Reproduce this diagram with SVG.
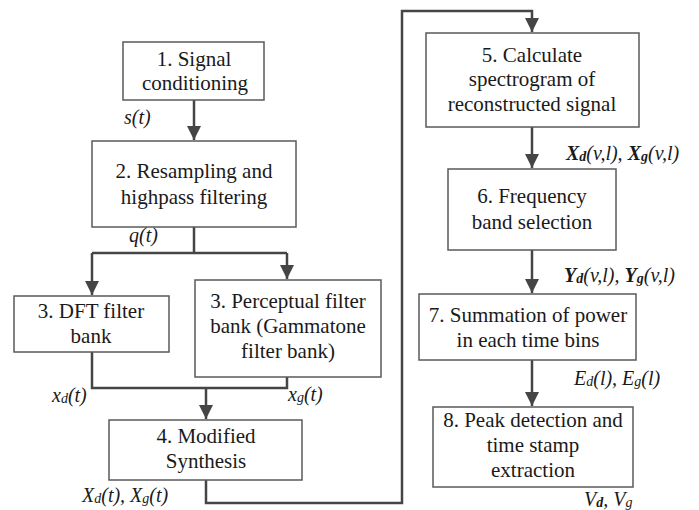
<svg xmlns="http://www.w3.org/2000/svg" width="699" height="510" viewBox="0 0 699 510">
  <style>
    .box { fill: #ffffff; stroke: #5a5a5a; stroke-width: 1.5; }
    .lbl { font-family: 'Liberation Serif', 'Times New Roman', serif; font-size: 21px; fill: #1a1a1a; text-anchor: middle; }
    .sig { font-family: 'Liberation Serif', 'Times New Roman', serif; font-size: 20px; font-style: italic; fill: #1a1a1a; }
    .bold { font-weight: bold; }
    .sub { font-size: 14px; }
    .wire { fill: none; stroke: #454545; stroke-width: 2.5; }
  </style>
  <defs>
    <marker id="arrow" markerUnits="userSpaceOnUse" markerWidth="16" markerHeight="16" viewBox="0 0 16 16" refX="14" refY="8" orient="auto">
      <path d="M0,1 L14,8 L0,15 Z" fill="#454545"/>
    </marker>
  </defs>
  <rect width="699" height="510" fill="#ffffff"/>

  <!-- connectors -->
  <g id="connectors">
    <path class="wire" d="M194,100 V140" marker-end="url(#arrow)"/>
    <path class="wire" d="M194,227 V253"/>
    <path class="wire" d="M92,253 H287"/>
    <path class="wire" d="M92,253 V295" marker-end="url(#arrow)"/>
    <path class="wire" d="M287,253 V279" marker-end="url(#arrow)"/>
    <path class="wire" d="M92,352 V388 H287 V377"/>
    <path class="wire" d="M206,388 V419" marker-end="url(#arrow)"/>
    <path class="wire" d="M206,480 V503 H402 V11 H532 V32" marker-end="url(#arrow)"/>
    <path class="wire" d="M532,127 V168" marker-end="url(#arrow)"/>
    <path class="wire" d="M532,250 V293" marker-end="url(#arrow)"/>
    <path class="wire" d="M532,360 V406" marker-end="url(#arrow)"/>
  </g>

  <!-- process blocks -->
  <g id="n1">
    <rect class="box" x="123" y="42" width="141" height="58"/>
    <text class="lbl" x="194" y="66">1. Signal</text>
    <text class="lbl" x="195" y="90">conditioning</text>
  </g>
  <g id="n2">
    <rect class="box" x="92" y="141" width="204" height="86"/>
    <text class="lbl" x="194" y="178">2. Resampling and</text>
    <text class="lbl" x="194" y="204">highpass filtering</text>
  </g>
  <g id="n3a">
    <rect class="box" x="14" y="296" width="155" height="56"/>
    <text class="lbl" x="91" y="318">3. DFT filter</text>
    <text class="lbl" x="91" y="343">bank</text>
  </g>
  <g id="n3b">
    <rect class="box" x="195" y="280" width="186" height="97"/>
    <text class="lbl" x="288" y="308">3. Perceptual filter</text>
    <text class="lbl" x="288" y="333">bank (Gammatone</text>
    <text class="lbl" x="288" y="358">filter bank)</text>
  </g>
  <g id="n4">
    <rect class="box" x="109" y="420" width="193" height="60"/>
    <text class="lbl" x="206" y="443">4. Modified</text>
    <text class="lbl" x="206" y="468">Synthesis</text>
  </g>
  <g id="n5">
    <rect class="box" x="426" y="33" width="213" height="94"/>
    <text class="lbl" x="532" y="62">5. Calculate</text>
    <text class="lbl" x="532" y="86">spectrogram of</text>
    <text class="lbl" x="532" y="111">reconstructed signal</text>
  </g>
  <g id="n6">
    <rect class="box" x="448" y="169" width="168" height="81"/>
    <text class="lbl" x="532" y="203">6. Frequency</text>
    <text class="lbl" x="532" y="229">band selection</text>
  </g>
  <g id="n7">
    <rect class="box" x="419" y="294" width="217" height="66"/>
    <text class="lbl" x="528" y="322">7. Summation of power</text>
    <text class="lbl" x="528" y="347">in each time bins</text>
  </g>
  <g id="n8">
    <rect class="box" x="433" y="407" width="200" height="80"/>
    <text class="lbl" x="533" y="427">8. Peak detection and</text>
    <text class="lbl" x="533" y="452">time stamp</text>
    <text class="lbl" x="533" y="477">extraction</text>
  </g>

  <!-- signal labels -->
  <g id="signals">
    <text class="sig" x="124" y="124">s(t)</text>
    <text class="sig" x="129" y="242">q(t)</text>
    <text class="sig" x="52" y="402">x<tspan class="sub" dy="1">d</tspan><tspan dy="-1">(t)</tspan></text>
    <text class="sig" x="288" y="401">x<tspan class="sub" dy="1">g</tspan><tspan dy="-1">(t)</tspan></text>
    <text class="sig" x="82" y="502">X<tspan class="sub" dy="1">d</tspan><tspan dy="-1">(t), X</tspan><tspan class="sub" dy="1">g</tspan><tspan dy="-1">(t)</tspan></text>
    <text class="sig" x="566" y="160"><tspan class="bold">X</tspan><tspan class="sub bold" dy="1">d</tspan><tspan dy="-1">(v,l), </tspan><tspan class="bold">X</tspan><tspan class="sub bold" dy="1">g</tspan><tspan dy="-1">(v,l)</tspan></text>
    <text class="sig" x="564" y="282"><tspan class="bold">Y</tspan><tspan class="sub bold" dy="1">d</tspan><tspan dy="-1">(v,l), </tspan><tspan class="bold">Y</tspan><tspan class="sub bold" dy="1">g</tspan><tspan dy="-1">(v,l)</tspan></text>
    <text class="sig" x="574" y="385">E<tspan class="sub" dy="1">d</tspan><tspan dy="-1">(l), E</tspan><tspan class="sub" dy="1">g</tspan><tspan dy="-1">(l)</tspan></text>
    <text class="sig" x="584" y="506">V<tspan class="sub bold" dy="1">d</tspan><tspan dy="-1">, V</tspan><tspan class="sub" dy="1">g</tspan></text>
  </g>
</svg>
